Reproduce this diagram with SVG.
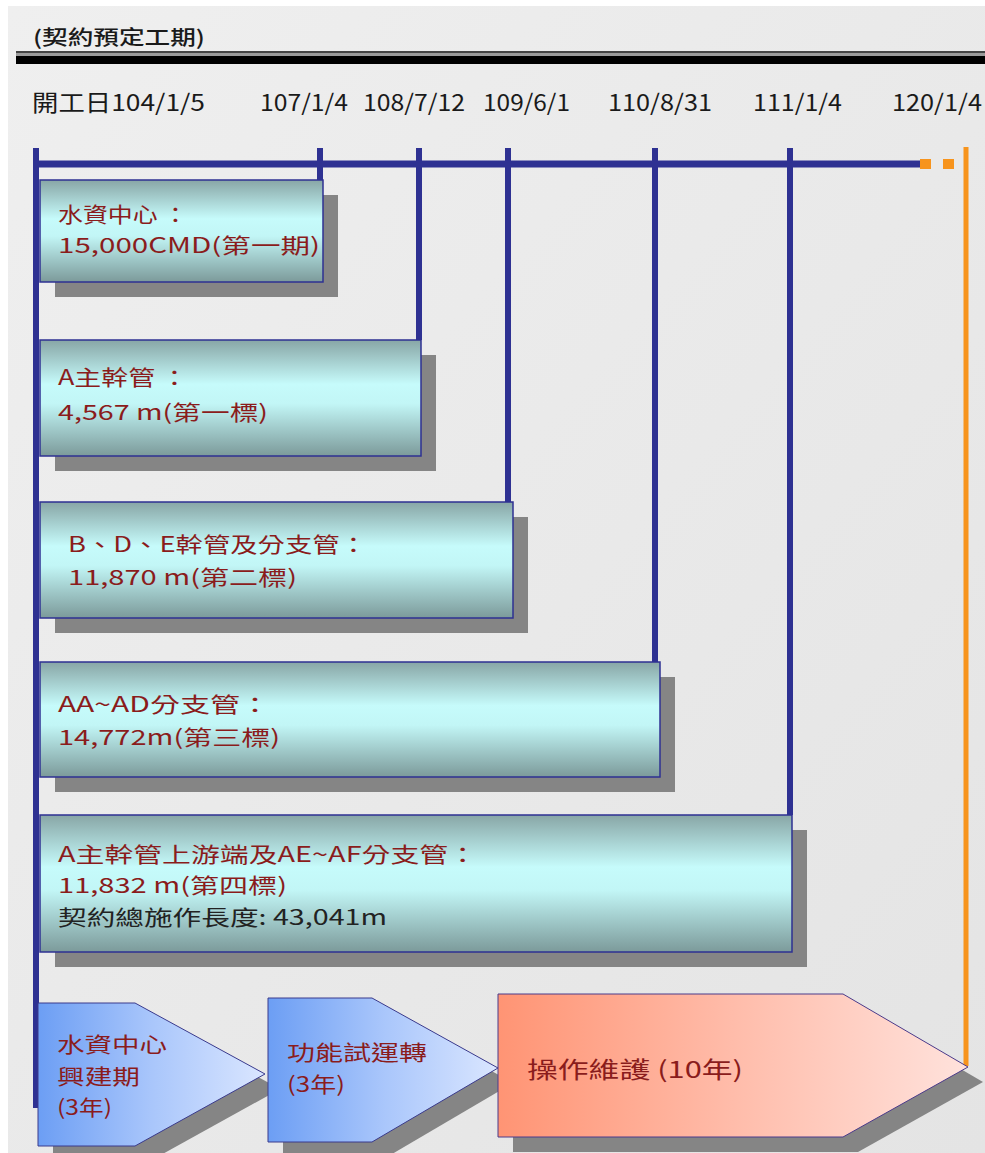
<svg xmlns="http://www.w3.org/2000/svg" width="985" height="1153" viewBox="0 0 985 1153">
<defs>
<linearGradient id="bg" x1="0" y1="0" x2="1" y2="1">
<stop offset="0" stop-color="#efefef"/>
<stop offset="1" stop-color="#e4e4e4"/>
</linearGradient>
<linearGradient id="boxg" x1="0" y1="0" x2="0" y2="1">
<stop offset="0" stop-color="#88a6a6"/>
<stop offset="0.38" stop-color="#c6fbfb"/>
<stop offset="0.55" stop-color="#c2f6f6"/>
<stop offset="1" stop-color="#7c9a9a"/>
</linearGradient>
<linearGradient id="blueg" x1="0" y1="0" x2="1" y2="0">
<stop offset="0" stop-color="#6c9ef4"/>
<stop offset="0.5" stop-color="#a9c6fb"/>
<stop offset="1" stop-color="#dae6ff"/>
</linearGradient>
<linearGradient id="orangeg" x1="0" y1="0" x2="1" y2="0">
<stop offset="0" stop-color="#ff9474"/>
<stop offset="0.5" stop-color="#ffbcaa"/>
<stop offset="1" stop-color="#ffe2dc"/>
</linearGradient>
<style>
.box{fill:url(#boxg);stroke:#2e3192;stroke-width:1.5}
.shadow{fill:#858585}
.tl{stroke:#2e3192;stroke-width:6;fill:none}
.t{font-family:"Noto Sans CJK TC","Noto Sans CJK SC",sans-serif;font-size:21px;font-weight:400;fill:#8a1c1c}
.dk{fill:#222222}
.date{font-family:"Noto Sans CJK TC","Noto Sans CJK SC",sans-serif;font-size:23px;fill:#1a1a1a}
.blue{fill:url(#blueg);stroke:#3a3a8c;stroke-width:1}
.orange{fill:url(#orangeg);stroke:#4a3a8a;stroke-width:1}
</style>
</defs>
<rect x="0" y="0" width="985" height="1153" fill="#ffffff"/>
<rect x="8" y="6" width="977" height="1147" fill="url(#bg)"/>

<g id="header">
<text x="33" y="45" style="font-family:'Noto Sans CJK TC','Noto Sans CJK SC',sans-serif;font-size:20px;font-weight:500;fill:#1a1a1a" textLength="172" lengthAdjust="spacingAndGlyphs">(契約預定工期)</text>
<rect x="16" y="51" width="969" height="2" fill="#444"/>
<rect x="16" y="53" width="969" height="3" fill="#9a9a9a"/>
<rect x="16" y="56" width="969" height="8" fill="#000"/>
</g>

<g id="dates">
<text class="date" x="32" y="111" textLength="173" lengthAdjust="spacingAndGlyphs">開工日104/1/5</text>
<text class="date" x="260" y="111" textLength="88" lengthAdjust="spacingAndGlyphs">107/1/4</text>
<text class="date" x="363" y="111" textLength="102" lengthAdjust="spacingAndGlyphs">108/7/12</text>
<text class="date" x="483" y="111" textLength="87" lengthAdjust="spacingAndGlyphs">109/6/1</text>
<text class="date" x="608" y="111" textLength="104" lengthAdjust="spacingAndGlyphs">110/8/31</text>
<text class="date" x="753" y="111" textLength="89" lengthAdjust="spacingAndGlyphs">111/1/4</text>
<text class="date" x="892" y="111" textLength="90" lengthAdjust="spacingAndGlyphs">120/1/4</text>
</g>

<g id="connectors">
<line class="tl" x1="36" y1="148" x2="36" y2="1108"/>
<line x1="33" y1="164" x2="920" y2="164" stroke="#2e3192" stroke-width="7"/>
<line class="tl" x1="320" y1="148" x2="320" y2="180"/>
<line class="tl" x1="419" y1="148" x2="419" y2="340"/>
<line class="tl" x1="508" y1="148" x2="508" y2="502"/>
<line class="tl" x1="655" y1="148" x2="655" y2="662"/>
<line class="tl" x1="790" y1="148" x2="790" y2="815"/>
<rect x="920" y="159" width="11" height="10" fill="#f7941d"/>
<rect x="943" y="159" width="11" height="10" fill="#f7941d"/>
<line x1="966" y1="147" x2="966" y2="1066" stroke="#f7941d" stroke-width="5"/>
</g>

<g id="box1">
<rect class="shadow" x="55" y="195" width="283" height="102"/>
<rect class="box" x="40" y="180" width="283" height="102"/>
<text class="t" x="58" y="222" textLength="130" lengthAdjust="spacingAndGlyphs">水資中心 ：</text>
<text class="t" x="58" y="253" textLength="262" lengthAdjust="spacingAndGlyphs">15,000CMD(第一期)</text>
</g>

<g id="box2">
<rect class="shadow" x="55" y="355" width="381" height="116"/>
<rect class="box" x="40" y="340" width="381" height="116"/>
<text class="t" x="58" y="385" textLength="130" lengthAdjust="spacingAndGlyphs">A主幹管 ：</text>
<text class="t" x="58" y="420" textLength="210" lengthAdjust="spacingAndGlyphs">4,567 m(第一標)</text>
</g>

<g id="box3">
<rect class="shadow" x="55" y="517" width="473" height="116"/>
<rect class="box" x="40" y="502" width="473" height="116"/>
<text class="t" x="68" y="552" textLength="299" lengthAdjust="spacingAndGlyphs">B、D、E幹管及分支管：</text>
<text class="t" x="68" y="585" textLength="229" lengthAdjust="spacingAndGlyphs">11,870 m(第二標)</text>
</g>

<g id="box4">
<rect class="shadow" x="55" y="677" width="620" height="115"/>
<rect class="box" x="40" y="662" width="620" height="115"/>
<text class="t" x="58" y="712" textLength="212" lengthAdjust="spacingAndGlyphs">AA~AD分支管：</text>
<text class="t" x="58" y="745" textLength="222" lengthAdjust="spacingAndGlyphs">14,772m(第三標)</text>
</g>

<g id="box5">
<rect class="shadow" x="55" y="830" width="752" height="137"/>
<rect class="box" x="40" y="815" width="752" height="137"/>
<text class="t" x="58" y="862" textLength="419" lengthAdjust="spacingAndGlyphs">A主幹管上游端及AE~AF分支管：</text>
<text class="t" x="58" y="893" textLength="229" lengthAdjust="spacingAndGlyphs">11,832 m(第四標)</text>
<text class="t dk" x="58" y="925" textLength="329" lengthAdjust="spacingAndGlyphs">契約總施作長度: 43,041m</text>
</g>

<g id="phase1">
<polygon class="shadow" points="53,1018 150,1018 280,1089 150,1161 53,1161"/>
<polygon class="blue" points="38,1003 135,1003 265,1074 135,1146 38,1146"/>
<text class="t" x="57" y="1052" textLength="110" lengthAdjust="spacingAndGlyphs">水資中心</text>
<text class="t" x="57" y="1084" textLength="83" lengthAdjust="spacingAndGlyphs">興建期</text>
<text class="t" x="57" y="1115" textLength="55" lengthAdjust="spacingAndGlyphs">(3年)</text>
</g>

<g id="phase2">
<polygon class="shadow" points="283,1013 387,1013 513,1083 387,1157 283,1157"/>
<polygon class="blue" points="268,998 372,998 498,1068 372,1142 268,1142"/>
<text class="t" x="287" y="1060" textLength="140" lengthAdjust="spacingAndGlyphs">功能試運轉</text>
<text class="t" x="287" y="1092" textLength="58" lengthAdjust="spacingAndGlyphs">(3年)</text>
</g>

<g id="phase3">
<polygon class="shadow" points="513,1009 858,1009 983,1082 858,1152 513,1152"/>
<polygon class="orange" points="498,994 843,994 968,1067 843,1137 498,1137"/>
<text class="t" x="527" y="1078" style="font-size:23px" textLength="216" lengthAdjust="spacingAndGlyphs">操作維護 (10年)</text>
</g>
</svg>
